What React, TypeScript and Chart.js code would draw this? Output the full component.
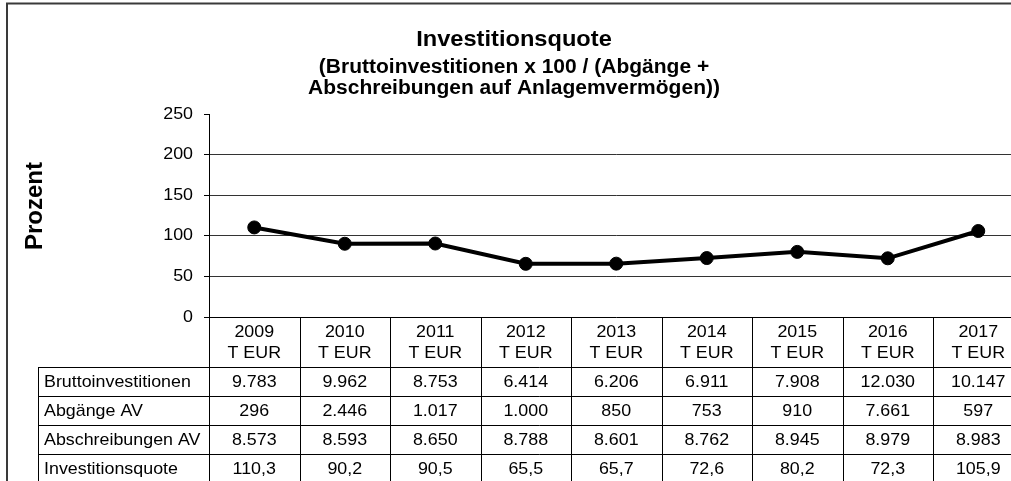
import React, { useEffect, useRef } from "react";
import { Chart, registerables } from "chart.js";

Chart.register(...registerables);

const years = ["2009", "2010", "2011", "2012", "2013", "2014", "2015", "2016", "2017"];
const brutto = [9783, 9962, 8753, 6414, 6206, 6911, 7908, 12030, 10147];
const abgaenge = [296, 2446, 1017, 1000, 850, 753, 910, 7661, 597];
const abschreibungen = [8573, 8593, 8650, 8788, 8601, 8762, 8945, 8979, 8983];
const quote = [110.3, 90.2, 90.5, 65.5, 65.7, 72.6, 80.2, 72.3, 105.9];
const yTicks = [0, 50, 100, 150, 200, 250];
const rowLabels = ["Bruttoinvestitionen", "Abgänge AV", "Abschreibungen AV", "Investitionsquote"];
const titleText = "Investitionsquote";
const subtitleLines = ["(Bruttoinvestitionen x 100 / (Abgänge +", "Abschreibungen auf Anlagemvermögen))"];
const yTitle = "Prozent";

const FONT = "'Liberation Sans', Arial, sans-serif";
const SX = 1.05;
const CW = 1040;
const CH = 481;

const fmtInt = (n: number) => String(n).replace(/\B(?=(\d{3})+(?!\d))/g, ".");
const fmtDec = (n: number) => n.toFixed(1).replace(".", ",");

function txt(ctx: CanvasRenderingContext2D, s: string, x: number, y: number, align: CanvasTextAlign, font: string, sx = SX) {
  ctx.save();
  ctx.font = font;
  ctx.fillStyle = "#000";
  ctx.textBaseline = "middle";
  ctx.textAlign = align;
  ctx.translate(x, y);
  ctx.scale(sx, 1);
  ctx.fillText(s, 0, 0);
  ctx.restore();
}

const decor = {
  id: "decor",
  afterDraw(chart: any) {
    const ctx: CanvasRenderingContext2D = chart.ctx;
    const xs = chart.scales.x;
    const ys = chart.scales.y;
    const area = chart.chartArea;
    const colW = (area.right - area.left) / years.length;
    const zeroY = ys.getPixelForValue(0);

    // frame
    ctx.save();
    ctx.strokeStyle = "#3a3a3a";
    ctx.lineWidth = 2;
    ctx.strokeRect(7, 3.5, 1200, 700);
    ctx.restore();

    // titles
    txt(ctx, titleText, 514, 40, "center", `bold 22.5px ${FONT}`);
    txt(ctx, subtitleLines[0], 514, 67, "center", `bold 20px ${FONT}`);
    txt(ctx, subtitleLines[1], 514, 88, "center", `bold 20px ${FONT}`);

    // y title
    ctx.save();
    ctx.translate(35, 206);
    ctx.rotate(-Math.PI / 2);
    ctx.font = `bold 24px ${FONT}`;
    ctx.fillStyle = "#000";
    ctx.textAlign = "center";
    ctx.textBaseline = "middle";
    ctx.fillText(yTitle, 0, 0);
    ctx.restore();

    // y tick labels
    yTicks.forEach((v) => {
      txt(ctx, String(v), area.left - 16, ys.getPixelForValue(v), "right", `17px ${FONT}`);
    });

    // table
    const headerBottom = zeroY + 50;
    const rowH = 29;
    const labelLeft = 38.5;
    const bottom = CH + 10;
    ctx.save();
    ctx.strokeStyle = "#000";
    ctx.lineWidth = 1;
    ctx.beginPath();
    for (let k = 0; k <= years.length; k++) {
      const x = Math.round(area.left + k * colW) + 0.5;
      ctx.moveTo(x, zeroY);
      ctx.lineTo(x, bottom);
    }
    ctx.moveTo(labelLeft, headerBottom);
    ctx.lineTo(labelLeft, bottom);
    for (let r = 0; r < 4; r++) {
      const y = Math.round(headerBottom + r * rowH) + 0.5;
      ctx.moveTo(labelLeft, y);
      ctx.lineTo(CW, y);
    }
    ctx.stroke();
    ctx.restore();

    const rows = [brutto.map(fmtInt), abgaenge.map(fmtInt), abschreibungen.map(fmtInt), quote.map(fmtDec)];
    years.forEach((yr, i) => {
      const cx = xs.getPixelForValue(i);
      txt(ctx, yr, cx, zeroY + 15, "center", `17px ${FONT}`);
      txt(ctx, "T EUR", cx, zeroY + 36, "center", `17px ${FONT}`);
      rows.forEach((row, r) => {
        txt(ctx, row[i], cx, headerBottom + r * rowH + rowH / 2 + 0.5, "center", `17px ${FONT}`);
      });
    });
    rowLabels.forEach((l, r) => {
      txt(ctx, l, 44, headerBottom + r * rowH + rowH / 2 + 0.5, "left", `17px ${FONT}`);
    });
  },
};

export default function App() {
  const ref = useRef<HTMLCanvasElement>(null);
  useEffect(() => {
    if (!ref.current) return;
    const chart = new Chart(ref.current, {
      type: "line",
      data: {
        labels: years,
        datasets: [
          {
            data: quote,
            borderColor: "#000",
            backgroundColor: "#000",
            borderWidth: 4,
            pointRadius: 6.5,
            pointBorderWidth: 1,
            pointBackgroundColor: "#000",
            pointBorderColor: "#000",
            tension: 0,
          },
        ],
      },
      options: {
        animation: false,
        responsive: false,
        devicePixelRatio: 1,
        layout: { padding: { left: 150, top: 114, right: CW - 1023.5, bottom: CH - 317 } },
        plugins: { legend: { display: false }, tooltip: { enabled: false }, title: { display: false } },
        scales: {
          x: { type: "category", display: false, offset: true },
          y: {
            min: 0,
            max: 250,
            ticks: { stepSize: 50, display: false },
            afterFit: (s: any) => {
              s.width = 59;
            },
            grid: {
              color: (c: any) => (c.tick && c.tick.value === 250 ? "rgba(0,0,0,0)" : c.tick && c.tick.value === 0 ? "#000" : "#333"),
              tickColor: "#000",
              tickLength: 5,
              drawTicks: true,
              lineWidth: 1,
            },
            border: { display: true, color: "#000", width: 1 },
          },
        },
      },
      plugins: [decor],
    });
    return () => chart.destroy();
  }, []);
  return (
    <div style={{ position: "fixed", left: 0, top: 0, width: 1011, height: 481, overflow: "hidden", background: "#fff" }}>
      <canvas ref={ref} width={CW} height={CH} style={{ display: "block", width: CW, height: CH }} />
    </div>
  );
}
